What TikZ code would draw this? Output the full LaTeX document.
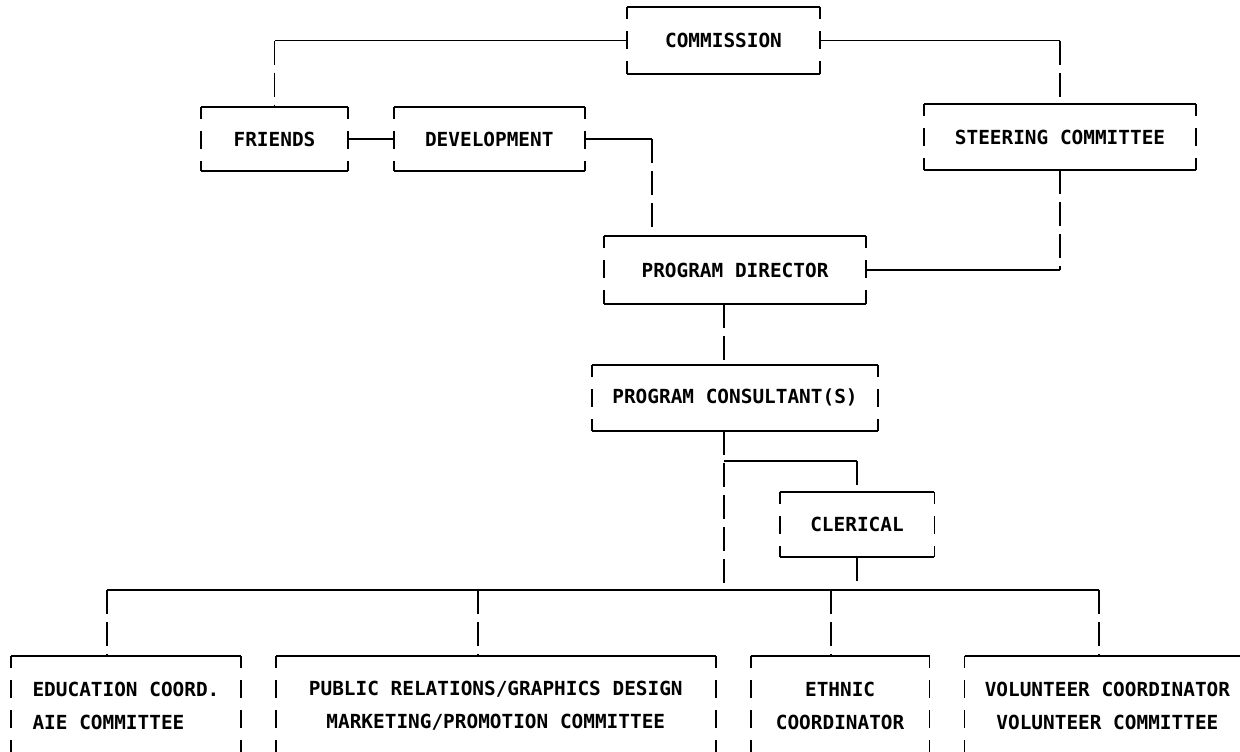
\documentclass[tikz,border=0pt]{standalone}
\usepackage{fontspec}
\setmonofont{DejaVu Sans Mono}
\usetikzlibrary{positioning}

\begin{document}
\begin{tikzpicture}[x=0.5pt, y=-0.5pt, line width=0.9pt,
    unit/.style = {inner sep=0pt, align=center, font=\ttfamily\bfseries\fontsize{9.7}{16.5}\selectfont},
    side/.style = {dash pattern=on 9pt off 6pt, dash phase=3pt},
    link/.style = {dash pattern=on 12pt off 4pt}]
    \useasboundingbox (0,0) rectangle (1240,751);
    \clip (0,0) rectangle (1240,751);
    % top levels
    \node[unit, minimum width=95.5pt, minimum height=32.5pt] (comm) at (723.5,40.5) {COMMISSION};
    \node[unit, minimum width=72.5pt, minimum height=31pt] (friends) at (274.5,139) {FRIENDS};
    \node[unit, minimum width=94.5pt, minimum height=31pt] (dev) [right=23pt of friends] {DEVELOPMENT};
    \node[unit, minimum width=135pt, minimum height=32pt] (steer) at (1060,137) {STEERING COMMITTEE};
    \node[unit, minimum width=130pt, minimum height=33pt] (pd) at (735,270) {PROGRAM DIRECTOR};
    \node[unit, minimum width=142pt, minimum height=32pt] (pc) [below=30.5pt of pd] {PROGRAM CONSULTANT(S)};
    \node[unit, minimum width=76.5pt, minimum height=31.5pt] (cler) at (857,524.5) {CLERICAL};
    % bottom row
    \node[unit, minimum width=114pt, minimum height=48.5pt, align=left] (edu) at (126,705.5) {EDUCATION COORD.\\AIE COMMITTEE};
    \node[unit, minimum width=219pt, minimum height=48.5pt] (pr) [right=17.5pt of edu] {PUBLIC RELATIONS/GRAPHICS DESIGN\\MARKETING/PROMOTION COMMITTEE};
    \node[unit, minimum width=88.5pt, minimum height=48.5pt] (ethnic) [right=17.5pt of pr] {ETHNIC\\COORDINATOR};
    \node[unit, minimum width=142pt, minimum height=48.5pt] (vol) [right=17.5pt of ethnic] {VOLUNTEER COORDINATOR\\VOLUNTEER COMMITTEE};
    % broken frames
    \foreach \n in {comm,friends,dev,steer,pd,pc,cler,edu,pr,ethnic,vol}{
        \draw (\n.north west) -- (\n.north east);
        \draw (\n.south west) -- (\n.south east);
        \draw[side] (\n.north west) -- (\n.south west);
        \draw[side] (\n.north east) -- (\n.south east);
    }
    % connectors
    \coordinate (c1) at (friends.north |- comm.west);
    \coordinate (c2) at (steer.north |- comm.east);
    \draw (comm.west) -- (c1);
    \draw[link] (c1) -- (friends.north);
    \draw (comm.east) -- (c2);
    \draw[link] (c2) -- (steer.north);
    \draw (friends.east) -- (dev.west);
    \coordinate (c3) at (652,139);
    \draw (dev.east) -- (c3);
    \draw[link] (c3) -- (c3 |- pd.north);
    \coordinate (c4) at (steer.south |- pd.east);
    \draw[link] (steer.south) -- (c4);
    \draw (c4) -- (pd.east);
    \coordinate (c5) at (724,461);
    \coordinate (bus) at (724,590);
    \draw[link] (c5 |- pd.south) -- (c5 |- pc.north);
    \draw[link] (c5 |- pc.south) -- (bus);
    \draw (c5) -- (c5 -| cler.north);
    \draw[link] (c5 -| cler.north) -- (cler.north);
    \draw[link] (cler.south) -- (cler.south |- bus);
    \coordinate (b1) at (107,590);
    \coordinate (b2) at (478,590);
    \coordinate (b3) at (831,590);
    \coordinate (b4) at (1099,590);
    \draw (b1) -- (b4);
    \foreach \b/\n in {b1/edu,b2/pr,b3/ethnic,b4/vol}
        \draw[link] (\b) -- (\b |- \n.north);
\end{tikzpicture}
\end{document}
